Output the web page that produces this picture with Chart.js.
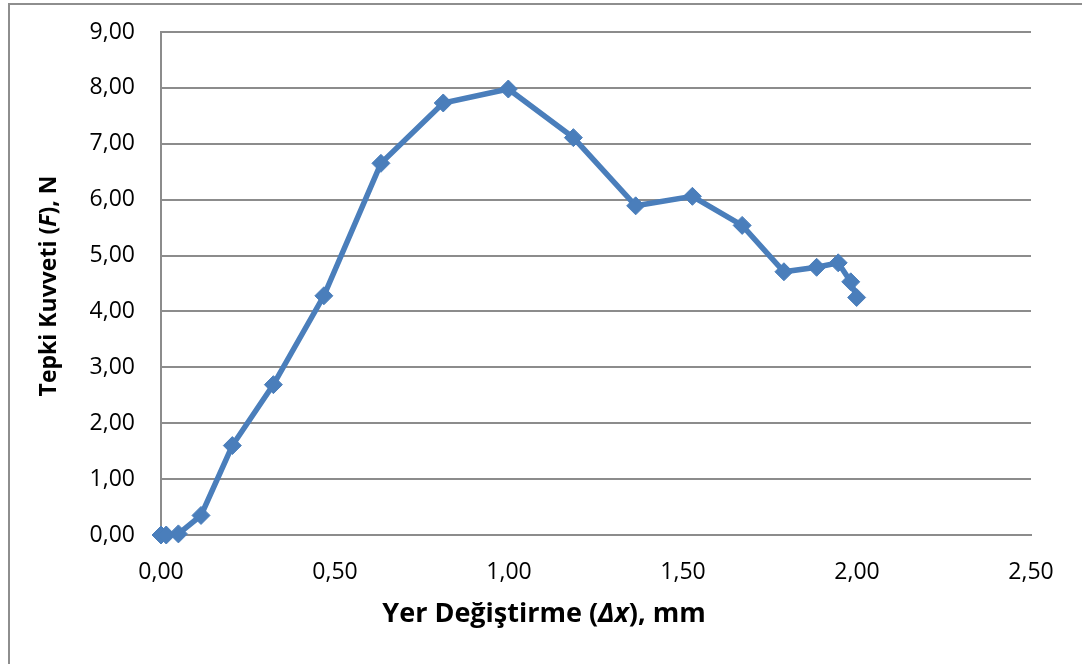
<!DOCTYPE html>
<html>
<head>
<meta charset="utf-8">
<script src="https://cdn.jsdelivr.net/npm/chart.js@4"></script>
<style>
    body { margin: 0; background: #ffffff; }
    #wrap { position: relative; width: 1082px; height: 664px; overflow: hidden; }
    #frame {
        position: absolute; left: 8px; top: 3px; width: 1100px; height: 700px;
        border-left: 2px solid #8e8e8e; border-top: 2px solid #8e8e8e;
    }
    canvas { position: absolute; left: 0; top: 0; }
</style>
</head>
<body>
<div id="wrap">
    <div id="frame"></div>
    <canvas id="forceChart" width="1082" height="664"></canvas>
</div>
<script>
// yer değiştirme (mm) ve tepki kuvveti (N) ölçümleri
const displacement = [0.00, 0.015, 0.05, 0.115, 0.205, 0.323, 0.468, 0.632, 0.811, 0.998, 1.185, 1.364, 1.527, 1.670, 1.790, 1.884, 1.946, 1.982, 1.999];
const force = [0.00, 0.00, 0.02, 0.35, 1.60, 2.69, 4.28, 6.65, 7.73, 7.98, 7.11, 5.89, 6.06, 5.54, 4.71, 4.79, 4.87, 4.53, 4.25];

const xTicks = [0, 0.5, 1, 1.5, 2, 2.5];
const yTicks = [0, 1, 2, 3, 4, 5, 6, 7, 8, 9];

const xTitle = [['Yer Değiştirme (', false], ['Δx', true], ['), mm', false]];
const yTitle = [['Tepki Kuvveti (', false], ['F', true], ['), N', false]];

const lineColor = '#4a7ebb';
const gridColor = '#8c8c8c';

function formatTick(value) {
    return value.toFixed(2).replace('.', ',');
}

// draws a title made of plain and italic pieces, centered on (cx, cy)
function drawTitle(ctx, parts, cx, cy, angle, size) {
    const fontFor = italic => (italic ? 'italic ' : '') + 'bold ' + size + 'px "Open Sans"';
    let total = 0;
    parts.forEach(p => { ctx.font = fontFor(p[1]); total += ctx.measureText(p[0]).width; });
    ctx.save();
    ctx.translate(cx, cy);
    ctx.rotate(angle);
    ctx.fillStyle = '#000000';
    ctx.textBaseline = 'middle';
    ctx.textAlign = 'left';
    let x = -total / 2;
    parts.forEach(p => {
        ctx.font = fontFor(p[1]);
        ctx.fillText(p[0], x, 0);
        x += ctx.measureText(p[0]).width;
    });
    ctx.restore();
}

const axisTitles = {
    id: 'axisTitles',
    afterDraw(chart) {
        const ctx = chart.ctx;
        drawTitle(ctx, xTitle, 544, 614, 0, 27);
        drawTitle(ctx, yTitle, 49, 286, -Math.PI / 2, 23);
    }
};

const ctx = document.getElementById('forceChart').getContext('2d');
new Chart(ctx, {
    type: 'scatter',
    data: {
        datasets: [{
            data: displacement.map((x, i) => ({ x: x, y: force[i] })),
            showLine: true,
            borderColor: lineColor,
            backgroundColor: lineColor,
            borderWidth: 5.5,
            pointStyle: 'rectRot',
            pointRadius: 9,
            pointBorderWidth: 1,
            pointHoverRadius: 9,
            clip: false
        }]
    },
    options: {
        responsive: false,
        animation: false,
        layout: { padding: { left: 0, top: 32, right: 51, bottom: 0 } },
        plugins: {
            legend: { display: false },
            tooltip: { enabled: false }
        },
        scales: {
            x: {
                type: 'linear',
                min: 0,
                max: 2.5,
                afterBuildTicks: scale => { scale.ticks = xTicks.map(v => ({ value: v })); },
                afterFit: scale => { scale.height = 129; },
                grid: { display: false, drawTicks: false },
                border: { display: true, color: gridColor, width: 2 },
                ticks: {
                    padding: 24,
                    color: '#000000',
                    font: { family: 'Open Sans', size: 23 },
                    maxRotation: 0,
                    callback: formatTick
                }
            },
            y: {
                type: 'linear',
                min: 0,
                max: 9,
                afterBuildTicks: scale => { scale.ticks = yTicks.map(v => ({ value: v })); },
                afterFit: scale => {
                    scale.width = 161;
                    scale.paddingTop = 0;
                    scale.paddingBottom = 0;
                },
                grid: { color: gridColor, lineWidth: 2, drawTicks: false },
                border: { display: true, color: gridColor, width: 2 },
                ticks: {
                    padding: 26,
                    color: '#000000',
                    font: { family: 'Open Sans', size: 23 },
                    callback: formatTick
                }
            }
        }
    },
    plugins: [axisTitles]
});
</script>
</body>
</html>
